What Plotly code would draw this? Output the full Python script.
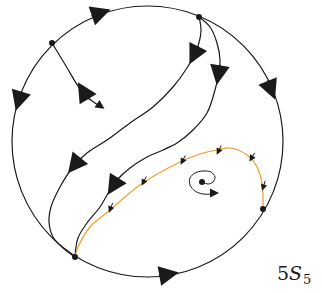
import math
import plotly.graph_objects as go

# ---- data (pixel-like coordinates, y grows downward) ----
circle_cx, circle_cy, circle_r = 147.5, 141.5, 135.5

node_x = [52, 199, 75, 263, 202]
node_y = [43, 17, 257, 209, 182]

sep_x = [52, 66, 78, 86, 95, 103]
sep_y = [43, 66, 86, 96, 103, 108]

curveA_x = [199, 201, 198, 193, 187, 173, 153, 130, 107, 87, 73, 60, 51, 49, 53, 63, 75]
curveA_y = [17, 30, 46, 57, 68, 87, 107, 123, 140, 153, 167, 187, 207, 222, 237, 248, 257]

curveB_x = [199, 210, 217, 220, 218, 215, 207, 193, 177, 163, 147, 130, 117, 110, 100, 87, 78, 75]
curveB_y = [17, 27, 43, 60, 77, 90, 113, 130, 143, 150, 157, 168, 180, 190, 207, 223, 238, 257]

orange_x = [75, 78, 90, 110, 140, 180, 200, 217, 230, 247, 257, 262, 263, 263]
orange_y = [257, 247, 227, 210, 185, 162, 154, 150, 148, 155, 167, 183, 197, 209]

spiral_x = [202, 208, 213, 215, 211, 203, 195, 190, 190, 195, 203, 211, 216]
spiral_y = [182, 184, 182, 177, 172, 171, 173, 178, 185, 191, 194, 194, 193]

# big arrowheads: centre and direction
big_x = [103, 18, 272, 171, 193, 218, 73, 112, 82]
big_y = [12, 103, 92, 274, 57, 77, 167, 188, 89]
big_dx = [129.5, -38.5, 49.5, 131.5, -11, -5, -27, -17, -26]
big_dy = [-44.5, 129.5, 124.5, -23.5, 22, 30, 34, 27, -43]

# small arrows crossing the orange orbit
small_x = [110, 143, 182, 218, 251, 263]
small_y = [210, 183, 162, 152, 159, 188]
small_dx = [-15, -15, -15, -15, -17, -9]
small_dy = [40, 30, 30, 30, 28, 30]

# little arrowheads at curve ends (separatrix end, spiral end)
end_x = [102, 216]
end_y = [107, 193]
end_dx = [15, 10]
end_dy = [10, 0]

label_main = "5<i>S</i>"
label_sub = "5"

BLACK = "#1a1a1a"
ORANGE = "#F39A2E"
LW = 1.2

fig = go.Figure()


def add_line(xs, ys, color=BLACK, width=LW):
    fig.add_trace(go.Scatter(x=xs, y=ys, mode="lines",
                             line=dict(color=color, width=width, shape="spline", smoothing=1.0),
                             hoverinfo="skip", showlegend=False))


add_line(sep_x, sep_y)
add_line(curveA_x, curveA_y)
add_line(curveB_x, curveB_y)
add_line(orange_x, orange_y, color=ORANGE)
add_line(spiral_x, spiral_y, width=1.0)

fig.add_trace(go.Scatter(x=node_x, y=node_y, mode="markers",
                         marker=dict(color=BLACK, size=6),
                         hoverinfo="skip", showlegend=False))

fig.add_shape(type="circle", xref="x", yref="y",
              x0=circle_cx - circle_r, x1=circle_cx + circle_r,
              y0=circle_cy - circle_r, y1=circle_cy + circle_r,
              line=dict(color=BLACK, width=LW), layer="below")


def arrow(cx, cy, dx, dy, ahead, tail, size, width, head=2):
    n = math.hypot(dx, dy)
    ux, uy = dx / n, dy / n
    tx, ty = cx + ahead * ux, cy + ahead * uy
    fig.add_annotation(x=tx, y=ty, ax=tx - tail * ux, ay=ty - tail * uy,
                       xref="x", yref="y", axref="x", ayref="y",
                       text="", showarrow=True, arrowhead=head,
                       arrowsize=size, arrowwidth=width, arrowcolor=BLACK,
                       standoff=0, startstandoff=0)


for i in range(len(big_x)):
    arrow(big_x[i], big_y[i], big_dx[i], big_dy[i], 8, 22, 3.3, 1.2)

for i in range(len(small_x)):
    arrow(small_x[i], small_y[i], small_dx[i], small_dy[i], 3, 12, 1.3, 1.0)

for i in range(len(end_x)):
    arrow(end_x[i], end_y[i], end_dx[i], end_dy[i], 3, 10, 1.8, 1.0)

fig.add_annotation(x=304, y=273, xref="x", yref="y", text=label_main,
                   showarrow=False, xanchor="right", yanchor="middle",
                   font=dict(family="DejaVu Serif", size=19, color=BLACK))
fig.add_annotation(x=301, y=279, xref="x", yref="y", text=label_sub,
                   showarrow=False, xanchor="left", yanchor="middle",
                   font=dict(family="DejaVu Serif", size=13, color=BLACK))

fig.update_layout(width=322, height=293, autosize=False,
                  margin=dict(l=0, r=0, t=0, b=0),
                  paper_bgcolor="white", plot_bgcolor="white",
                  xaxis=dict(range=[0, 322], visible=False, fixedrange=True),
                  yaxis=dict(range=[293, 0], visible=False, fixedrange=True))

fig.write_html("out.html", config={"displayModeBar": False},
               post_script="document.body.style.margin='0';document.body.style.overflow='hidden';")
